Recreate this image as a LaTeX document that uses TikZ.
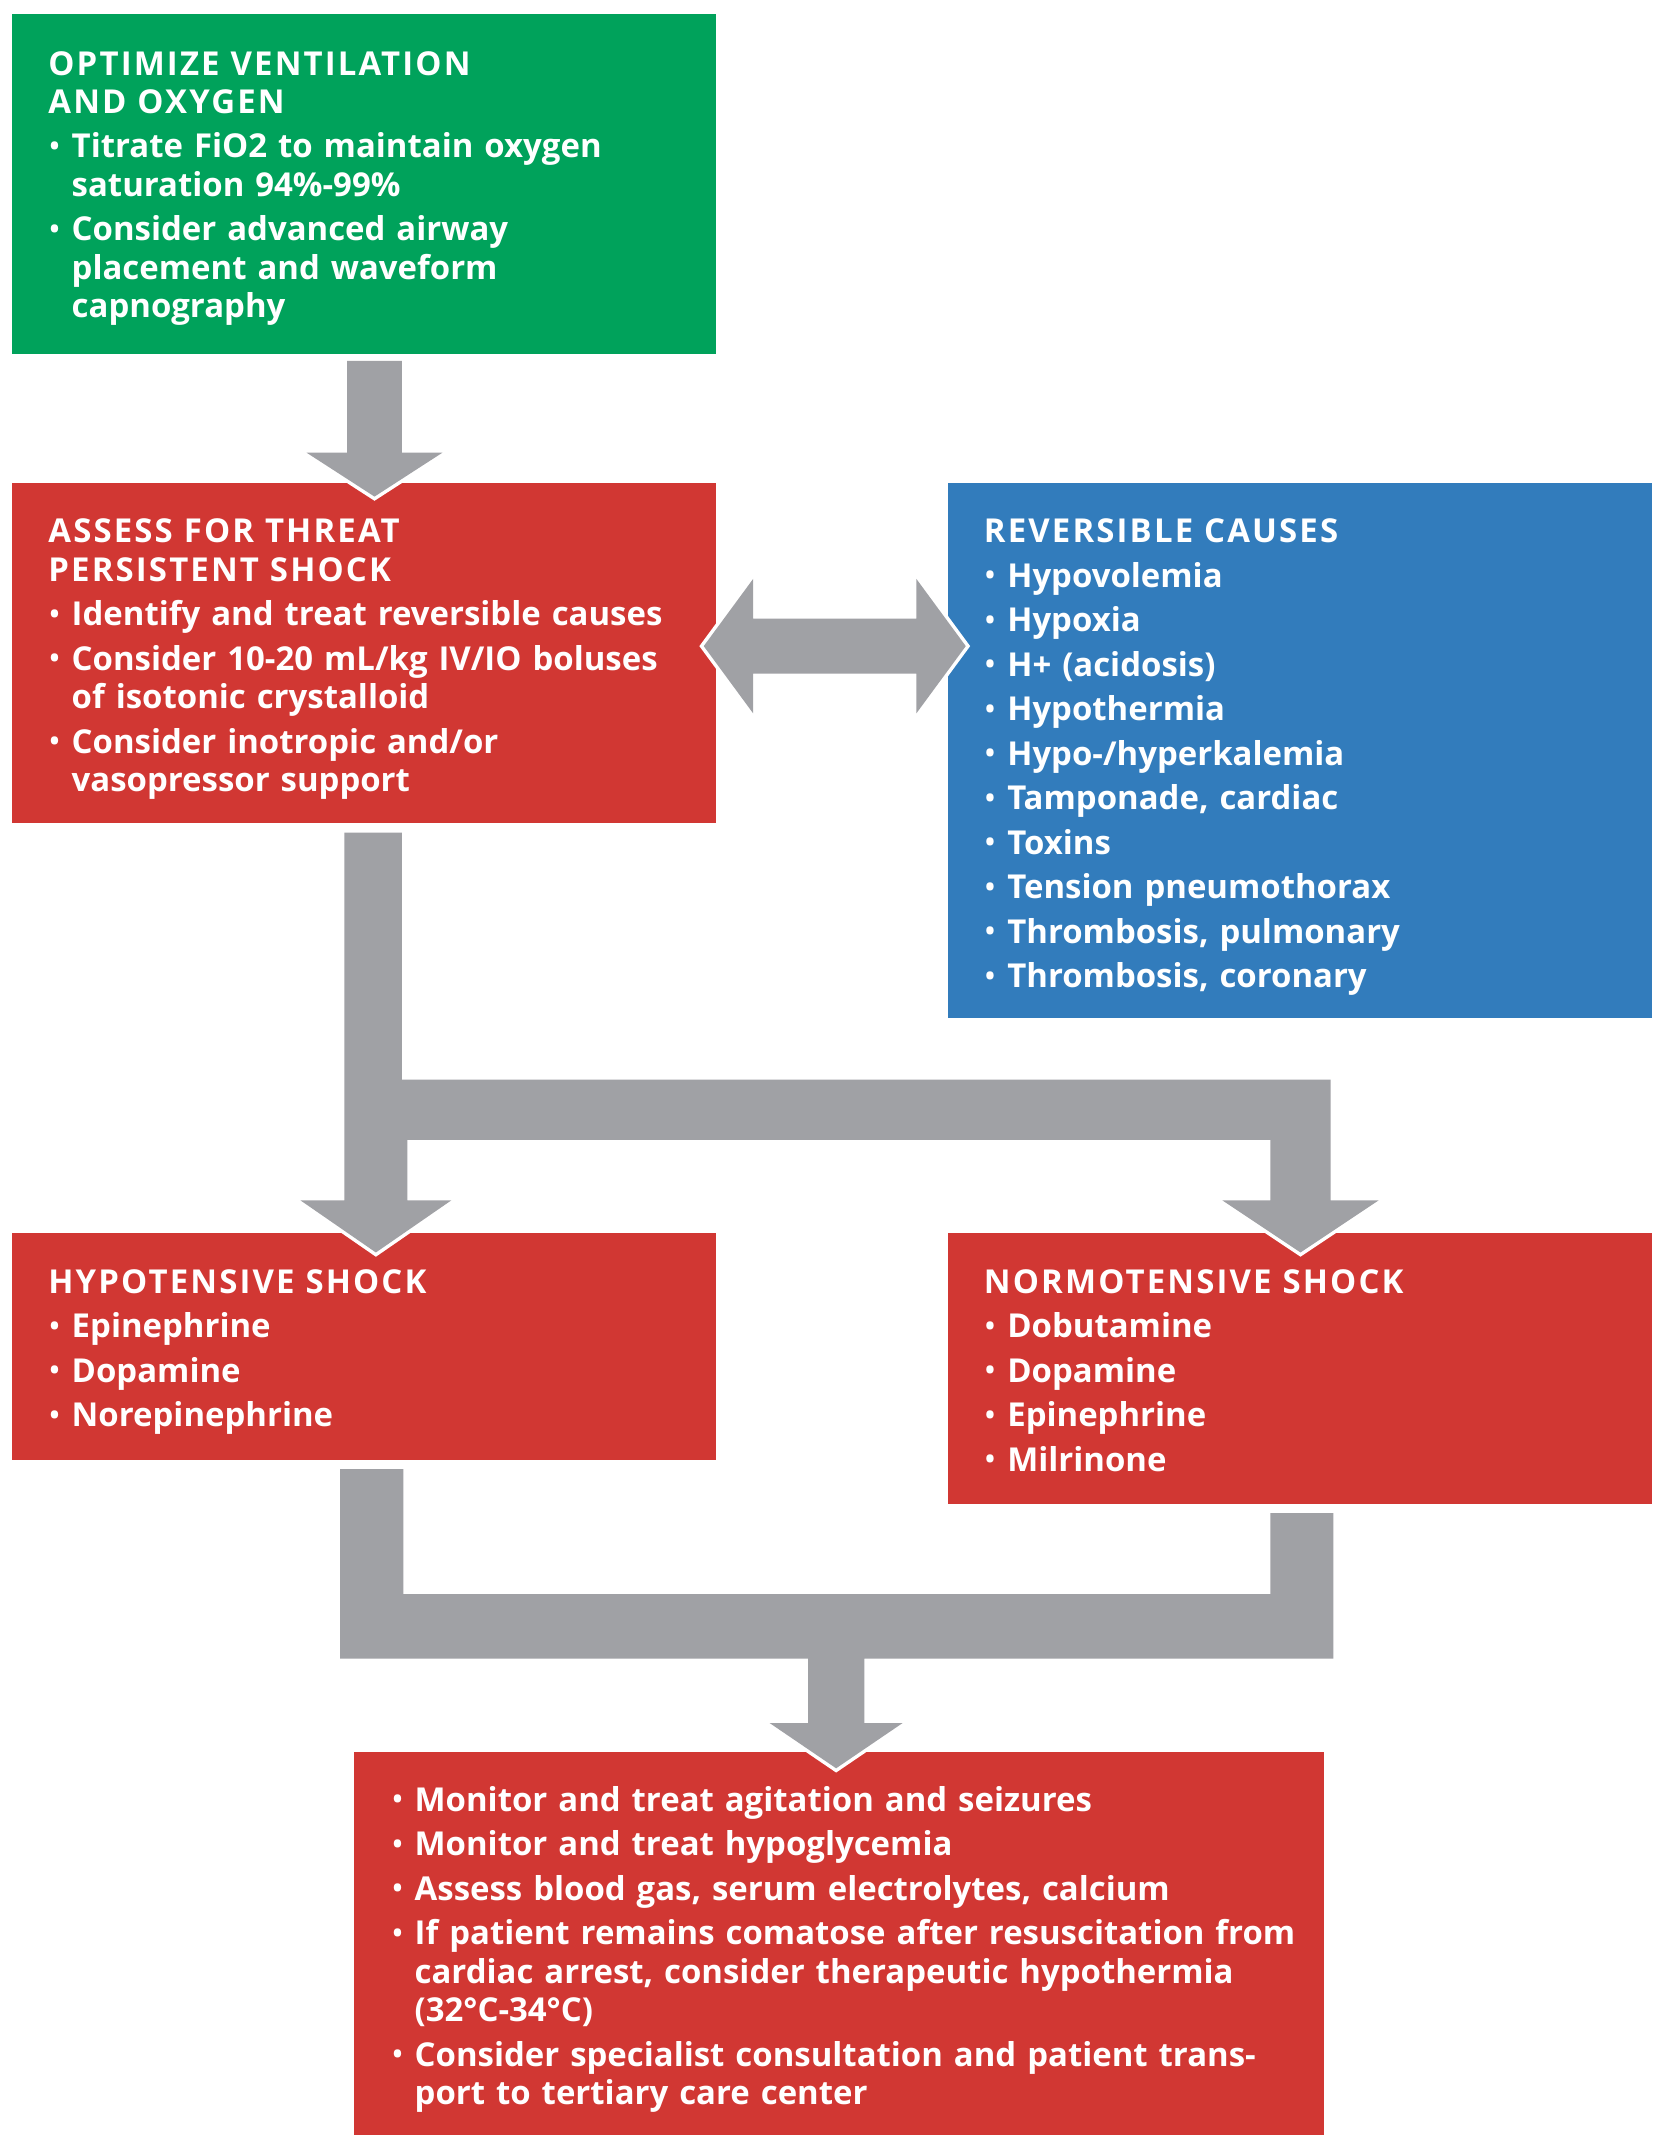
\documentclass[tikz,border=0pt]{standalone}
\usepackage{fontspec}
\usepackage{graphicx}
\setmainfont{Open Sans}
\usetikzlibrary{calc}
\definecolor{optgreen}{HTML}{00A25B}
\definecolor{shockred}{HTML}{D13733}
\definecolor{causeblue}{HTML}{327CBC}
\definecolor{flowgray}{HTML}{A0A1A5}
\setlength{\parindent}{0pt}
\newcommand{\hd}[1]{{\addfontfeatures{LetterSpace=6.5}#1}}
\newcommand{\itm}[1]{\par\vspace{3.1pt}\hangindent=11.9pt\hangafter=1\noindent
  \makebox[11.9pt][l]{\hspace{0.6pt}\raisebox{0.08em}{\scalebox{0.8}{\textbullet}}}#1\par}
\tikzset{
  card/.style 2 args={anchor=north west, inner sep=0pt, outer sep=0pt, minimum width=#1, minimum height=#2},
  txt/.style={anchor=north west, inner sep=0pt, text=white, text width=350pt, align=left,
    font=\bfseries\fontsize{16.8}{19.6}\selectfont},
  flow/.style={fill=flowgray, preaction={draw=white, line width=3.6pt}}
}
\begin{document}
\begin{tikzpicture}[x=0.7pt,y=-0.7pt]
\useasboundingbox (0,0) rectangle (1212,1568);
\node[card={359.1pt}{173.6pt}, fill=optgreen] (optimize) at (9,10) {};
\node[card={359.1pt}{173.6pt}, fill=shockred] (assess) at (9,352) {};
\node[card={359.1pt}{273pt}, fill=causeblue] (causes) at (691,352) {};
\node[card={359.1pt}{115.5pt}, fill=shockred] (hypo) at (9,899) {};
\node[card={359.1pt}{137.9pt}, fill=shockred] (normo) at (691,899) {};
\node[card={494.9pt}{195.3pt}, fill=shockred] (care) at (258,1277) {};

\node[txt] (optimize-txt) at ($(optimize.north west)+(26,27)$) {\hd{OPTIMIZE VENTILATION\newline AND OXYGEN}%
  \itm{Titrate FiO2 to maintain oxygen\newline saturation 94\%-99\%}%
  \itm{Consider advanced airway\newline placement and waveform\newline capnography}};
\node[txt] (assess-txt) at ($(assess.north west)+(26,26)$) {\hd{ASSESS FOR THREAT\newline PERSISTENT SHOCK}%
  \itm{Identify and treat reversible causes}%
  \itm{Consider 10-20 mL/kg IV/IO boluses\newline of isotonic crystalloid}%
  \itm{Consider inotropic and/or\newline vasopressor support}};
\node[txt] (causes-txt) at ($(causes.north west)+(26,26)$) {\hd{REVERSIBLE CAUSES}%
  \itm{Hypovolemia}\itm{Hypoxia}\itm{H+ (acidosis)}\itm{Hypothermia}%
  \itm{Hypo-/hyperkalemia}\itm{Tamponade, cardiac}\itm{Toxins}%
  \itm{Tension pneumothorax}\itm{Thrombosis, pulmonary}\itm{Thrombosis, coronary}};
\node[txt] (hypo-txt) at ($(hypo.north west)+(26,26)$) {\hd{HYPOTENSIVE SHOCK}%
  \itm{Epinephrine}\itm{Dopamine}\itm{Norepinephrine}};
\node[txt] (normo-txt) at ($(normo.north west)+(26,26)$) {\hd{NORMOTENSIVE SHOCK}%
  \itm{Dobutamine}\itm{Dopamine}\itm{Epinephrine}\itm{Milrinone}};
\node[txt, text width=480pt] (care-txt) at ($(care.north west)+(27,10.6)$) {%
  \itm{Monitor and treat agitation and seizures}%
  \itm{Monitor and treat hypoglycemia}%
  \itm{Assess blood gas, serum electrolytes, calcium}%
  \itm{If patient remains comatose after resuscitation from\newline cardiac arrest, consider therapeutic hypothermia\newline (32°C-34°C)}%
  \itm{Consider specialist consultation and patient trans-\newline port to tertiary care center}};

\coordinate (o1) at (273,0 |- optimize.south);
\coordinate (o2) at (273,0 |- assess.north);
\fill[flow] ($(o1)+(-20,5)$) -- ($(o1)+(20,5)$) -- ($(o2)+(20,-22)$) -- ($(o2)+(49.5,-22)$)
  -- ($(o2)+(0,10)$) -- ($(o2)+(-49.5,-22)$) -- ($(o2)+(-20,-22)$) -- cycle;

\coordinate (dl) at ($(assess.north east |- 0,471)+(-9,0)$);
\coordinate (dr) at ($(causes.north west |- 0,471)+(13,0)$);
\fill[flow] (dl) -- ++(36,-49) -- ++(0,29) -- ($(dr)+(-36,-20)$) -- ++(0,-29) -- (dr)
  -- ++(-36,49) -- ++(0,-29) -- ($(dl)+(36,20)$) -- ++(0,29) -- cycle;

\coordinate (s2) at (272,0 |- assess.south);
\coordinate (l2) at (274,0 |- hypo.north);
\coordinate (r2) at (948,0 |- normo.north);
\fill[flow] ($(s2)+(-21,7)$) -- ($(s2)+(21,7)$) -- (293,787) -- (970,787)
  -- ($(r2)+(22,-24)$) -- ($(r2)+(57,-24)$) -- ($(r2)+(0,14)$) -- ($(r2)+(-57,-24)$) -- ($(r2)+(-22,-24)$)
  -- (926,831) -- (297,831)
  -- ($(l2)+(23,-24)$) -- ($(l2)+(55,-24)$) -- ($(l2)+(0,14)$) -- ($(l2)+(-55,-24)$) -- ($(l2)+(-23,-24)$) -- cycle;

\coordinate (l3) at (271,0 |- hypo.south);
\coordinate (r3) at (949,0 |- normo.south);
\coordinate (c3) at (609.5,0 |- care.north);
\fill[flow] ($(l3)+(-23,7)$) -- ($(l3)+(23,7)$) -- (294,1162) -- (926,1162) -- ($(r3)+(-23,7)$)
  -- ($(r3)+(23,7)$) -- (972,1209) -- (630,1209) -- ($(c3)+(20.5,-21)$) -- ($(c3)+(48.5,-21)$)
  -- ($(c3)+(0,12)$) -- ($(c3)+(-48.5,-21)$) -- ($(c3)+(-20.5,-21)$) -- (589,1209) -- (248,1209) -- cycle;
\end{tikzpicture}
\end{document}
